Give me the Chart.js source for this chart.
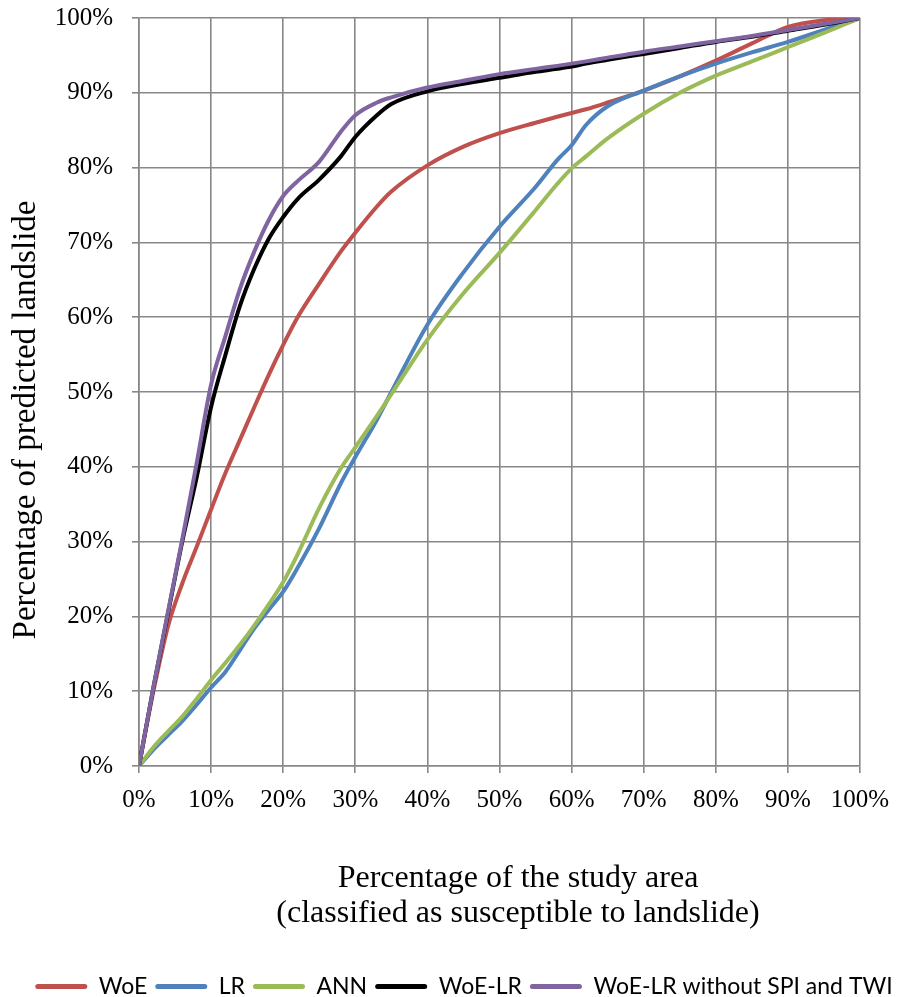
<!DOCTYPE html>
<html>
<head>
<meta charset="utf-8">
<script src="https://cdn.jsdelivr.net/npm/chart.js@4.4.1/dist/chart.umd.min.js"></script>
<style>
    html, body { margin: 0; padding: 0; background: #fff; overflow: hidden; }
    #wrap { width: 908px; height: 1008px; }
</style>
</head>
<body>
<div id="wrap"><canvas id="chartCurvas"></canvas></div>
<script>
// Porcentaje del área de estudio (eje X)
const areaPct = [0, 2, 4, 6, 8, 10, 12, 14, 16, 18, 20, 22, 25, 28, 30, 33, 35, 40, 45, 50, 55, 58, 60, 62, 65, 70, 75, 80, 85, 90, 95, 100];

// Porcentaje de deslizamientos predichos por modelo
const woe      = [0, 10, 18.6, 24.4, 29.3, 34.3, 39.2, 43.6, 48, 52.3, 56.3, 60, 64.5, 68.8, 71.3, 74.8, 76.8, 80.3, 82.8, 84.6, 86, 86.8, 87.3, 87.8, 88.7, 90.3, 92.2, 94.3, 96.6, 98.8, 99.7, 100];
const lr       = [0, 2.2, 4.1, 6, 8.2, 10.5, 12.6, 15.5, 18.4, 20.9, 23.3, 26.5, 31.8, 37.8, 41.3, 46.3, 50, 59, 66, 72.1, 77.4, 81, 83, 85.7, 88.2, 90.3, 92.2, 93.9, 95.4, 96.8, 98.4, 100];
const ann      = [0, 2.5, 4.6, 6.6, 9, 11.5, 13.8, 16.2, 18.8, 21.6, 24.6, 28.3, 34.5, 39.8, 42.6, 46.8, 49.7, 57, 63.2, 68.6, 74.3, 77.8, 79.9, 81.5, 83.9, 87.2, 90, 92.3, 94.2, 96.1, 98, 100];
const woeLr    = [0, 10.5, 20.3, 30, 38.6, 48, 55, 61.5, 66.5, 70.5, 73.4, 75.8, 78.4, 81.5, 84.1, 87, 88.5, 90.2, 91.2, 92, 92.8, 93.2, 93.5, 93.9, 94.4, 95.2, 96, 96.8, 97.5, 98.3, 99.1, 100];
const woeLrSin = [0, 10.5, 20.5, 30.3, 40.5, 51, 57.5, 63.8, 68.8, 73, 76.2, 78.2, 80.8, 84.8, 87, 88.7, 89.4, 90.7, 91.6, 92.5, 93.2, 93.6, 93.9, 94.2, 94.7, 95.5, 96.2, 96.9, 97.6, 98.4, 99.2, 100];

const series = ['WoE', 'LR', 'ANN', 'WoE-LR', 'WoE-LR without SPI and TWI'];
const colores = ['#C0504D', '#4F81BD', '#9BBB59', '#000000', '#8064A2'];
const ticksPct = [0, 10, 20, 30, 40, 50, 60, 70, 80, 90, 100];

const tituloX = ['Percentage of the study area', '(classified as susceptible to landslide)'];
const tituloY = 'Percentage of predicted landslide';

const serif = '"Liberation Serif", "Times New Roman", serif';
const gris = '#878787';

const puntos = (vals) => vals.map((v, i) => ({ x: areaPct[i], y: v }));
const valores = [woe, lr, ann, woeLr, woeLrSin];

// Títulos de ejes dibujados a mano para respetar su posición
const titulosEjes = {
    id: 'titulosEjes',
    afterDraw(chart) {
        const { ctx, chartArea } = chart;
        const cx = (chartArea.left + chartArea.right) / 2 + 18.5;
        ctx.save();
        ctx.fillStyle = '#000';
        ctx.textAlign = 'center';
        ctx.textBaseline = 'alphabetic';
        ctx.font = '32px ' + serif;
        ctx.fillText(tituloX[0], cx, chartArea.bottom + 121);
        ctx.fillText(tituloX[1], cx, chartArea.bottom + 156);
        ctx.font = '33px ' + serif;
        ctx.translate(35, (chartArea.top + chartArea.bottom) / 2 + 28);
        ctx.rotate(-Math.PI / 2);
        ctx.fillText(tituloY, 0, 0);
        ctx.restore();
    }
};

const ctx = document.getElementById('chartCurvas').getContext('2d');
new Chart(ctx, {
    type: 'line',
    data: {
        datasets: series.map((nombre, i) => ({
            label: nombre,
            data: puntos(valores[i]),
            borderColor: colores[i],
            backgroundColor: colores[i],
            borderWidth: 4,
            pointRadius: 0,
            cubicInterpolationMode: 'monotone',
            order: series.length - i
        }))
    },
    options: {
        responsive: true,
        maintainAspectRatio: false,
        animation: false,
        layout: {
            padding: { top: 18, right: 0, left: 20, bottom: 0 }
        },
        plugins: {
            tooltip: { enabled: false },
            legend: {
                position: 'bottom',
                labels: {
                    boxWidth: 52,
                    boxHeight: 5,
                    useBorderRadius: true,
                    borderRadius: 2.5,
                    padding: 8,
                    color: '#000',
                    font: { family: 'Lato, "Open Sans", sans-serif', size: 23 },
                    sort: (a, b) => a.datasetIndex - b.datasetIndex,
                    generateLabels: (chart) =>
                        Chart.defaults.plugins.legend.labels.generateLabels(chart)
                            .map(l => ({ ...l, lineWidth: 0 }))
                }
            }
        },
        scales: {
            x: {
                type: 'linear',
                min: 0,
                max: 100,
                afterFit: (scale) => {
                    scale.height = 201;
                    scale.paddingLeft = 0;
                    scale.paddingRight = 0;
                },
                afterBuildTicks: (scale) => { scale.ticks = ticksPct.map(v => ({ value: v })); },
                grid: { color: gris, lineWidth: 1.6, tickLength: 7, tickColor: gris },
                border: { color: gris, width: 1.6 },
                ticks: {
                    padding: 12,
                    color: '#000',
                    maxRotation: 0,
                    font: { family: serif, size: 25 },
                    callback: (v) => v + '%'
                }
            },
            y: {
                min: 0,
                max: 100,
                afterFit: (scale) => {
                    scale.width = 119;
                    scale.paddingTop = 0;
                    scale.paddingBottom = 0;
                },
                afterBuildTicks: (scale) => { scale.ticks = ticksPct.map(v => ({ value: v })); },
                grid: { color: gris, lineWidth: 1.6, tickLength: 7, tickColor: gris },
                border: { color: gris, width: 1.6 },
                ticks: {
                    padding: 19,
                    color: '#000',
                    font: { family: serif, size: 25 },
                    callback: (v) => v + '%'
                }
            },
            // eje vacío a la derecha solo para reservar margen
            yDer: {
                position: 'right',
                min: 0,
                max: 100,
                afterFit: (scale) => {
                    scale.width = 48;
                    scale.paddingTop = 0;
                    scale.paddingBottom = 0;
                },
                grid: { display: false },
                border: { display: false },
                ticks: { display: false }
            }
        }
    },
    plugins: [titulosEjes]
});
</script>
</body>
</html>
